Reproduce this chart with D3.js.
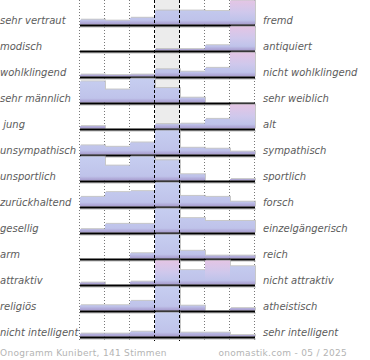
<!DOCTYPE html>
<html>
<head>
<meta charset="utf-8">
<script src="https://cdn.jsdelivr.net/npm/d3@7"></script>
<style>
  body { margin: 0; background: #fff; }
  svg { display: block; }
</style>
</head>
<body>
<div id="vis"></div>
<script>
const leftLabels = ["sehr vertraut", "modisch", "wohlklingend", "sehr männlich", " jung", "unsympathisch",
    "unsportlich", "zurückhaltend", "gesellig", "arm", "attraktiv", "religiös", "nicht intelligent"];
const rightLabels = ["fremd", "antiquiert", "nicht wohlklingend", "sehr weiblich", "alt", "sympathisch",
    "sportlich", "forsch", "einzelgängerisch", "reich", "nicht attraktiv", "atheistisch", "sehr intelligent"];
const bins = [1, 2, 3, 4, 5, 6, 7];
// share of votes per bin (values above 25 are clipped and shown pink)
const votes = [
    [5, 4, 7, 14.5, 14.5, 14, 36],
    [0, 0, 0, 1.5, 1.5, 5.5, 60],
    [2, 1.5, 2, 7.5, 5, 9, 45],
    [22, 13.5, 25, 15, 5, 0, 0],
    [2.5, 0, 0, 4.5, 5, 10, 40],
    [9.5, 8, 12.5, 25, 7, 6, 3],
    [25, 15.5, 25, 21, 6.5, 0, 1.5],
    [10, 15, 16, 25, 11, 10, 5],
    [3.5, 9, 9, 25, 15, 12, 12],
    [0, 0, 5.5, 25, 8, 3, 3],
    [2, 0, 3, 32, 15, 32, 19],
    [5.5, 5.5, 10, 25, 5, 0, 2.5],
    [3, 3, 5, 25, 4, 4, 1.5]
];
const footerLeft = "Onogramm Kunibert, 141 Stimmen";
const footerRight = "onomastik.com - 05 / 2025";

const W = 370, H = 360;
const cap = 25;

const svg = d3.select("#vis").append("svg")
    .attr("width", W)
    .attr("height", H);

const x = d3.scaleBand().domain(bins).range([80, 255]);
const row = d3.scaleBand().domain(d3.range(leftLabels.length)).range([-0.5, 337.5]);
const h = d3.scaleLinear().domain([0, cap]).range([0, 24]).clamp(true);

const base = i => row(i) + row.bandwidth();

const defs = svg.append("defs");
votes.forEach((r, i) => {
    const y0 = base(i) - 24, y1 = base(i);
    const blue = defs.append("linearGradient")
        .attr("id", "gb" + i)
        .attr("gradientUnits", "userSpaceOnUse")
        .attr("x1", 0).attr("x2", 0).attr("y1", y0).attr("y2", y1);
    [[0, "#c6cdf0"], [0.78, "#bfc3ea"], [0.88, "#b1abd9"], [1, "#a193c8"]]
        .forEach(s => blue.append("stop").attr("offset", s[0]).attr("stop-color", s[1]));
    const pink = defs.append("linearGradient")
        .attr("id", "gp" + i)
        .attr("gradientUnits", "userSpaceOnUse")
        .attr("x1", 0).attr("x2", 0).attr("y1", y0).attr("y2", y1);
    [[0, "#e2c5e5"], [0.45, "#cfc8ec"], [0.78, "#bfc3ea"], [0.88, "#b1abd9"], [1, "#a193c8"]]
        .forEach(s => pink.append("stop").attr("offset", s[0]).attr("stop-color", s[1]));
});

// middle column
svg.append("rect")
    .attr("x", x(4)).attr("y", 0)
    .attr("width", x.bandwidth()).attr("height", 340)
    .attr("fill", "#ececec");

// dotted grid
const edges = [80, 105, 130, 205, 230, 255];
svg.selectAll(".dot-line")
    .data(edges)
    .join("line")
    .attr("class", "dot-line")
    .attr("x1", d => d - 0.5).attr("x2", d => d - 0.5)
    .attr("y1", 0).attr("y2", 341)
    .attr("stroke", "#777")
    .attr("stroke-width", 1)
    .attr("stroke-dasharray", "1,2");

const rows = svg.selectAll(".row")
    .data(votes)
    .join("g")
    .attr("class", "row");

rows.each(function(r, i) {
    const g = d3.select(this);
    const data = r.map((v, k) => ({ v, bin: bins[k] })).filter(d => d.v > 0);
    g.selectAll(".shadow")
        .data(data)
        .join("rect")
        .attr("class", "shadow")
        .attr("x", d => x(d.bin) + 1)
        .attr("y", d => base(i) - 1 - h(d.v) - 1)
        .attr("width", x.bandwidth())
        .attr("height", d => h(d.v) + 1)
        .attr("fill", "#aaa")
        .attr("opacity", 0.65);
    g.selectAll(".bar")
        .data(data)
        .join("rect")
        .attr("class", "bar")
        .attr("x", d => x(d.bin))
        .attr("y", d => base(i) - 1 - h(d.v))
        .attr("width", x.bandwidth())
        .attr("height", d => h(d.v))
        .attr("fill", d => d.v > cap ? `url(#gp${i})` : `url(#gb${i})`);
    // baseline
    g.append("line")
        .attr("x1", 80).attr("x2", 256)
        .attr("y1", base(i) + 1.5).attr("y2", base(i) + 1.5)
        .attr("stroke", "#bbb").attr("stroke-width", 1);
    g.append("line")
        .attr("x1", 80).attr("x2", 255)
        .attr("y1", base(i)).attr("y2", base(i))
        .attr("stroke", "#000").attr("stroke-width", 2);
});

// dashed lines around middle column
svg.selectAll(".dash-line")
    .data([x(4), x(5)])
    .join("line")
    .attr("class", "dash-line")
    .attr("x1", d => d - 0.5).attr("x2", d => d - 0.5)
    .attr("y1", 0).attr("y2", 341)
    .attr("stroke", "#000")
    .attr("stroke-width", 1)
    .attr("stroke-dasharray", "3,2");

const labelStyle = sel => sel
    .attr("font-family", "DejaVu Sans, sans-serif")
    .attr("font-style", "italic")
    .attr("font-size", "10px")
    .attr("fill", "#5c5c5c")
    .style("white-space", "pre");

svg.selectAll(".left-label")
    .data(leftLabels)
    .join("text")
    .attr("class", "left-label")
    .attr("x", 0)
    .attr("y", (d, i) => base(i) - 2)
    .call(labelStyle)
    .text(d => d);

svg.selectAll(".right-label")
    .data(rightLabels)
    .join("text")
    .attr("class", "right-label")
    .attr("x", 263)
    .attr("y", (d, i) => base(i) - 2)
    .call(labelStyle)
    .text(d => d);

const footerStyle = sel => sel
    .attr("font-family", "DejaVu Sans, sans-serif")
    .attr("font-size", "9px")
    .attr("letter-spacing", "0.3px")
    .attr("fill", "#b4b4b4");

svg.append("text")
    .attr("x", 0).attr("y", 356)
    .call(footerStyle)
    .text(footerLeft);

svg.append("text")
    .attr("x", 347).attr("y", 356)
    .attr("text-anchor", "end")
    .call(footerStyle)
    .text(footerRight);
</script>
</body>
</html>
